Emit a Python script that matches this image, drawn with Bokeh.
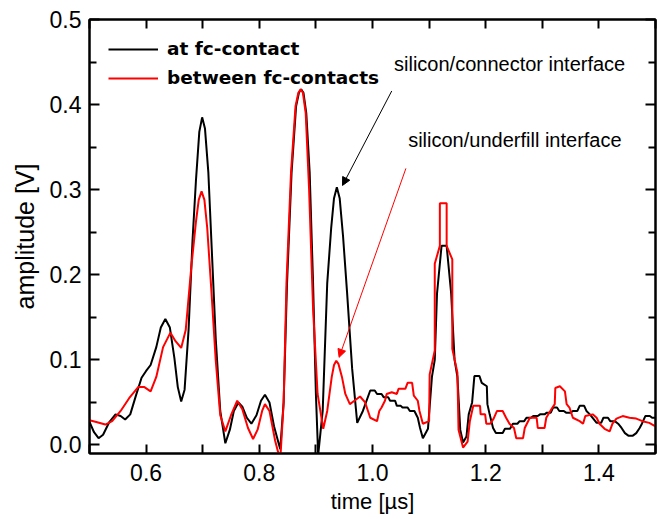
from bokeh.plotting import figure
from bokeh.models import (LinearAxis, FixedTicker, NumeralTickFormatter, Range1d,
                          Legend, LegendItem, Arrow, NormalHead, Label)
from bokeh.embed import file_html
from bokeh.resources import INLINE

# ---- data ----
x_black = [0.500, 0.508, 0.516, 0.524, 0.535, 0.546, 0.555, 0.563, 0.572, 0.582,
           0.592, 0.600, 0.608, 0.618, 0.626, 0.634, 0.642, 0.650, 0.656, 0.662,
           0.668, 0.675, 0.682, 0.688, 0.694, 0.699, 0.704, 0.710, 0.716, 0.723,
           0.731, 0.740, 0.748, 0.755, 0.763, 0.770, 0.778, 0.786, 0.795, 0.803,
           0.810, 0.818, 0.826, 0.837, 0.843, 0.849, 0.857, 0.865, 0.870, 0.874,
           0.878, 0.883, 0.889, 0.895, 0.900, 0.904, 0.912, 0.920, 0.927, 0.932,
           0.937, 0.942, 0.948, 0.955, 0.964, 0.973, 0.983, 0.996, 1.004, 1.008,
           1.016, 1.020, 1.028, 1.031, 1.040, 1.043, 1.050, 1.053, 1.062, 1.066,
           1.074, 1.080, 1.084, 1.089, 1.098, 1.105, 1.110, 1.114, 1.122, 1.131,
           1.139, 1.145, 1.150, 1.155, 1.160, 1.166, 1.170, 1.176, 1.180, 1.189,
           1.193, 1.202, 1.203, 1.207, 1.213, 1.218, 1.230, 1.234, 1.243, 1.248,
           1.256, 1.260, 1.268, 1.272, 1.280, 1.284, 1.292, 1.296, 1.304, 1.308,
           1.315, 1.319, 1.326, 1.330, 1.338, 1.342, 1.350, 1.354, 1.362, 1.366,
           1.374, 1.378, 1.384, 1.390, 1.396, 1.404, 1.408, 1.416, 1.420, 1.428,
           1.434, 1.440, 1.446, 1.452, 1.460, 1.466, 1.472, 1.476, 1.482, 1.490,
           1.494, 1.500]
y_black = [0.027, 0.015, 0.008, 0.012, 0.027, 0.036, 0.034, 0.030, 0.036, 0.058,
           0.079, 0.087, 0.094, 0.115, 0.138, 0.148, 0.138, 0.102, 0.068, 0.051,
           0.065, 0.135, 0.240, 0.310, 0.368, 0.385, 0.372, 0.320, 0.230, 0.125,
           0.040, 0.002, 0.018, 0.040, 0.050, 0.045, 0.032, 0.025, 0.035, 0.052,
           0.059, 0.050, 0.022, -0.005, 0.050, 0.190, 0.320, 0.398, 0.414, 0.418,
           0.414, 0.390, 0.320, 0.190, 0.060, -0.012, 0.040, 0.190, 0.255, 0.290,
           0.303, 0.290, 0.245, 0.180, 0.090, 0.026, 0.040, 0.064, 0.064, 0.060,
           0.060, 0.056, 0.056, 0.052, 0.052, 0.046, 0.046, 0.044, 0.044, 0.040,
           0.040, 0.032, 0.020, 0.008, 0.019, 0.080, 0.100, 0.178, 0.234, 0.234,
           0.178, 0.100, 0.080, 0.018, 0.003, 0.010, 0.036, 0.050, 0.081, 0.081,
           0.073, 0.069, 0.048, 0.036, 0.020, 0.014, 0.014, 0.019, 0.019, 0.025,
           0.025, 0.028, 0.028, 0.032, 0.032, 0.034, 0.034, 0.036, 0.036, 0.038,
           0.038, 0.044, 0.044, 0.040, 0.040, 0.038, 0.038, 0.040, 0.040, 0.046,
           0.046, 0.040, 0.036, 0.031, 0.026, 0.026, 0.032, 0.032, 0.028, 0.028,
           0.025, 0.020, 0.014, 0.011, 0.011, 0.014, 0.020, 0.025, 0.034, 0.034,
           0.032, 0.032]

x_red = [0.500, 0.512, 0.528, 0.540, 0.555, 0.570, 0.586, 0.597, 0.608, 0.618,
         0.630, 0.643, 0.652, 0.662, 0.670, 0.680, 0.688, 0.693, 0.698, 0.703,
         0.708, 0.715, 0.723, 0.731, 0.740, 0.750, 0.761, 0.770, 0.780, 0.789,
         0.797, 0.805, 0.810, 0.818, 0.828, 0.837, 0.843, 0.848, 0.856, 0.864,
         0.869, 0.873, 0.877, 0.882, 0.888, 0.895, 0.903, 0.913, 0.920, 0.928,
         0.932, 0.936, 0.940, 0.946, 0.952, 0.960, 0.968, 0.978, 0.987, 0.996,
         1.008, 1.012, 1.016, 1.022, 1.025, 1.034, 1.043, 1.046, 1.058, 1.062,
         1.070, 1.073, 1.080, 1.083, 1.089, 1.100, 1.101, 1.110, 1.110, 1.119,
         1.119, 1.131, 1.131, 1.141, 1.141, 1.150, 1.152, 1.160, 1.168, 1.172,
         1.178, 1.190, 1.191, 1.199, 1.201, 1.208, 1.214, 1.220, 1.230, 1.236,
         1.242, 1.250, 1.254, 1.266, 1.269, 1.278, 1.290, 1.292, 1.304, 1.307,
         1.316, 1.322, 1.323, 1.331, 1.340, 1.343, 1.348, 1.354, 1.366, 1.372,
         1.376, 1.389, 1.396, 1.401, 1.410, 1.419, 1.424, 1.431, 1.442, 1.454,
         1.466, 1.477, 1.489, 1.500]
y_red = [0.029, 0.027, 0.024, 0.028, 0.040, 0.055, 0.068, 0.068, 0.063, 0.080,
         0.115, 0.132, 0.122, 0.114, 0.135, 0.210, 0.262, 0.288, 0.298, 0.288,
         0.255, 0.185, 0.100, 0.035, 0.016, 0.035, 0.052, 0.042, 0.020, 0.007,
         0.018, 0.040, 0.048, 0.040, 0.005, -0.018, 0.050, 0.190, 0.320, 0.398,
         0.414, 0.418, 0.414, 0.390, 0.300, 0.160, 0.060, 0.019, 0.040, 0.080,
         0.094, 0.099, 0.095, 0.080, 0.060, 0.048, 0.052, 0.057, 0.050, 0.032,
         0.028, 0.040, 0.044, 0.052, 0.060, 0.062, 0.060, 0.066, 0.066, 0.073,
         0.073, 0.058, 0.052, 0.040, 0.025, 0.028, 0.083, 0.111, 0.213, 0.234,
         0.284, 0.284, 0.234, 0.218, 0.113, 0.085, 0.018, -0.003, 0.004, 0.028,
         0.046, 0.046, 0.036, 0.036, 0.025, 0.025, 0.031, 0.040, 0.040, 0.032,
         0.025, 0.020, 0.008, 0.008, 0.020, 0.032, 0.032, 0.020, 0.020, 0.032,
         0.042, 0.048, 0.067, 0.069, 0.063, 0.048, 0.044, 0.032, 0.028, 0.025,
         0.034, 0.036, 0.032, 0.025, 0.019, 0.016, 0.025, 0.031, 0.034, 0.032,
         0.031, 0.028, 0.026, 0.022]

series_labels = ["at fc-contact", "between fc-contacts"]
x_major_ticks = [0.6, 0.8, 1.0, 1.2, 1.4]
x_minor_ticks = [0.5, 0.7, 0.9, 1.1, 1.3, 1.5]
y_major_ticks = [0.0, 0.1, 0.2, 0.3, 0.4, 0.5]
y_minor_ticks = [0.05, 0.15, 0.25, 0.35, 0.45]

FONT = "Liberation Sans"

p = figure(width=657, height=519, output_backend="svg", toolbar_location=None,
           x_range=Range1d(0.5, 1.5), y_range=Range1d(-0.01, 0.5),
           min_border_left=89, min_border_right=2, min_border_top=19,
           min_border_bottom=66, title=None)
p.xgrid.visible = False
p.ygrid.visible = False
p.outline_line_color = "black"
p.outline_line_width = 2
p.background_fill_color = "white"
p.border_fill_color = "white"

r_black = p.line(x_black, y_black, line_color="black", line_width=2)
r_red = p.line(x_red, y_red, line_color="#ff0000", line_width=2)


def style_common(ax):
    ax.axis_line_width = 2
    ax.major_tick_out = 0
    ax.minor_tick_out = 0
    ax.major_tick_line_width = 2
    ax.minor_tick_line_width = 2


def label_style(ax, standoff):
    ax.formatter = NumeralTickFormatter(format="0.0")
    ax.major_label_text_font = FONT
    ax.major_label_text_font_size = "23px"
    ax.major_label_text_color = "black"
    ax.major_label_standoff = standoff


def no_labels(ax, ticks):
    ax.major_label_overrides = {t: "" for t in ticks}
    ax.major_label_standoff = 0


# bottom axis
xb = p.xaxis[0]
xb.ticker = FixedTicker(ticks=x_major_ticks, minor_ticks=x_minor_ticks)
style_common(xb)
xb.major_tick_in = 9
xb.minor_tick_in = 9
label_style(xb, 10)
xb.axis_label = "time [µs]"
xb.axis_label_text_font = FONT
xb.axis_label_text_font_size = "22px"
xb.axis_label_text_font_style = "normal"
xb.axis_label_text_color = "black"
xb.axis_label_standoff = 5

# left axis
yl = p.yaxis[0]
yl.ticker = FixedTicker(ticks=y_major_ticks, minor_ticks=y_minor_ticks)
style_common(yl)
yl.major_tick_in = 10
yl.minor_tick_in = 7
label_style(yl, 8)
yl.axis_label = "amplitude [V]"
yl.axis_label_text_font = FONT
yl.axis_label_text_font_size = "25px"
yl.axis_label_text_font_style = "normal"
yl.axis_label_text_color = "black"
yl.axis_label_standoff = 8

# top and right axes: ticks only
top_ax = LinearAxis(ticker=FixedTicker(ticks=x_major_ticks, minor_ticks=x_minor_ticks))
style_common(top_ax)
top_ax.major_tick_in = 9
top_ax.minor_tick_in = 9
no_labels(top_ax, x_major_ticks)
p.add_layout(top_ax, "above")

right_ax = LinearAxis(ticker=FixedTicker(ticks=y_major_ticks, minor_ticks=y_minor_ticks))
style_common(right_ax)
right_ax.major_tick_in = 10
right_ax.minor_tick_in = 7
no_labels(right_ax, y_major_ticks)
p.add_layout(right_ax, "right")

legend = Legend(items=[LegendItem(label=series_labels[0], renderers=[r_black]),
                       LegendItem(label=series_labels[1], renderers=[r_red])],
                location=(19, 365), glyph_width=50, glyph_height=20,
                label_height=20, label_standoff=9, spacing=8, padding=0,
                margin=0, border_line_color=None, background_fill_alpha=0,
                label_text_font="DejaVu Sans", label_text_font_style="bold",
                label_text_font_size="18.5px", label_text_color="black")
p.add_layout(legend, "center")

p.add_layout(Label(x=1.038, y=0.448, text="silicon/connector interface",
                   text_font=FONT, text_font_size="20px", text_color="black",
                   text_baseline="middle", text_align="left"))
p.add_layout(Label(x=1.063, y=0.358, text="silicon/underfill interface",
                   text_font=FONT, text_font_size="20px", text_color="black",
                   text_baseline="middle", text_align="left"))

p.add_layout(Arrow(x_start=1.034, y_start=0.416, x_end=0.947, y_end=0.305,
                   line_color="black", line_width=1,
                   end=NormalHead(size=8, fill_color="black", line_color="black")))
p.add_layout(Arrow(x_start=1.059, y_start=0.325, x_end=0.941, y_end=0.103,
                   line_color="#ff0000", line_width=1,
                   end=NormalHead(size=8, fill_color="#ff0000", line_color="#ff0000")))

open("out.html", "w").write(file_html(p, INLINE))
